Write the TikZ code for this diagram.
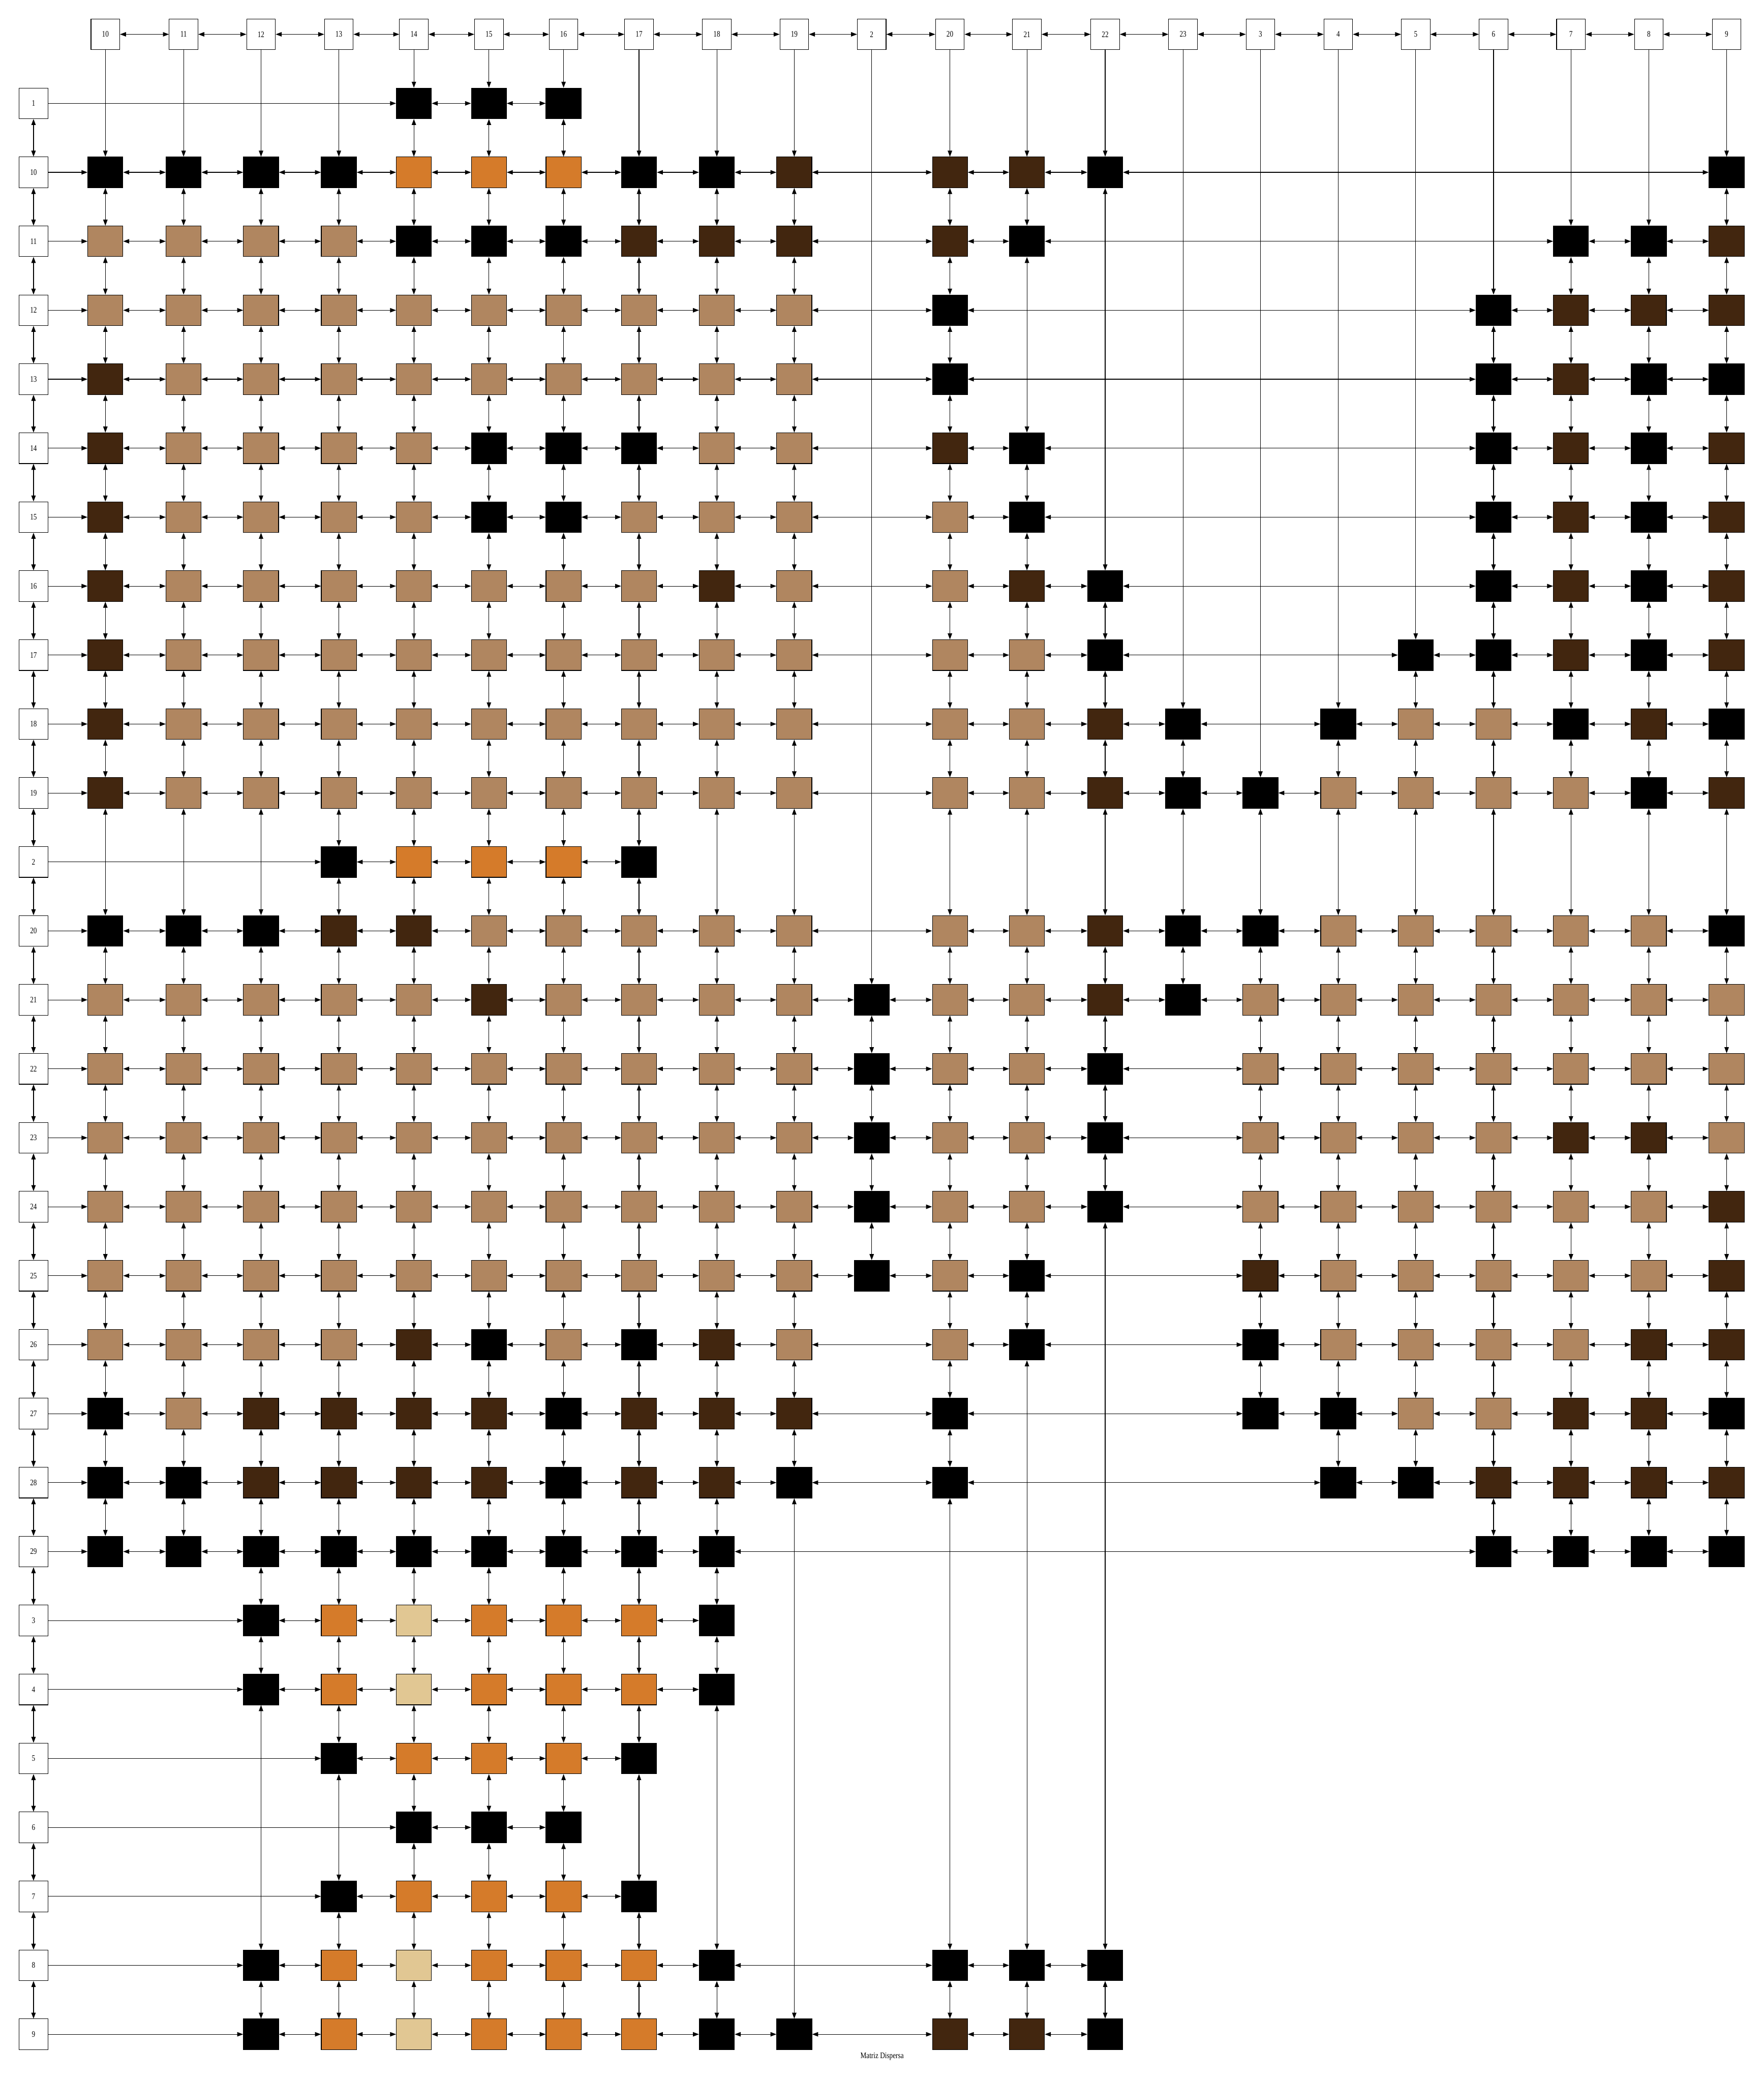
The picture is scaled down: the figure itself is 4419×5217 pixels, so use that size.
\documentclass[tikz,border=0pt]{standalone}
\usepackage{fontspec}
\setmainfont{Liberation Serif}[FakeStretch=0.8]
\usetikzlibrary{arrows.meta}
\definecolor{colK}{HTML}{000000}
\definecolor{colD}{HTML}{42260F}
\definecolor{colT}{HTML}{B08660}
\definecolor{colO}{HTML}{D57B2A}
\definecolor{colL}{HTML}{E1C793}
\tikzset{
  hdr/.style={draw,fill=white,minimum width=0.72cm,minimum height=0.77cm,inner sep=0pt,font=\fontsize{6}{7}\selectfont},
  cell/.style={draw,minimum width=0.88cm,minimum height=0.77cm,inner sep=0pt},
}
\begin{document}
\begin{tikzpicture}[x=0.01cm,y=-0.01cm,line width=0.4pt,>={Triangle[length=0.15cm,width=0.11cm]}]
\useasboundingbox (0,0) rectangle (4419,5217);
% cabeceras de columna
\foreach \cn/\xc [count=\i from 0, remember=\cn as \lastcn (initially none)] in {10/264,11/460,12/654,13/849,14/1037,15/1225,16/1412,17/1601,18/1796,19/1990,2/2184,20/2380,21/2573,22/2769,23/2964,3/3158,4/3353,5/3547,6/3742,7/3936,8/4131,9/4326}{
  \node[hdr] (c\cn) at (\xc,86) {\cn};
  \ifnum\i>0 \draw[<->] (c\lastcn) -- (c\cn); \fi
  \expandafter\xdef\csname lst\cn\endcsname{c\cn}
  \expandafter\xdef\csname top\cn\endcsname{1}
}
% cabeceras de fila
\foreach \rn [count=\j from 0, remember=\rn as \lastrn (initially none)] in {1,10,11,12,13,14,15,16,17,18,19,2,20,21,22,23,24,25,26,27,28,29,3,4,5,6,7,8,9}{
  \node[hdr] (r\rn) at (84,259+172.8*\j) {\rn};
  \ifnum\j>0 \draw[<->] (r\lastrn) -- (r\rn); \fi
}
% nodos de la matriz: columna/color
\foreach \rn/\cells in {
  1/{14/K,15/K,16/K},
  10/{10/K,11/K,12/K,13/K,14/O,15/O,16/O,17/K,18/K,19/D,20/D,21/D,22/K,9/K},
  11/{10/T,11/T,12/T,13/T,14/K,15/K,16/K,17/D,18/D,19/D,20/D,21/K,7/K,8/K,9/D},
  12/{10/T,11/T,12/T,13/T,14/T,15/T,16/T,17/T,18/T,19/T,20/K,6/K,7/D,8/D,9/D},
  13/{10/D,11/T,12/T,13/T,14/T,15/T,16/T,17/T,18/T,19/T,20/K,6/K,7/D,8/K,9/K},
  14/{10/D,11/T,12/T,13/T,14/T,15/K,16/K,17/K,18/T,19/T,20/D,21/K,6/K,7/D,8/K,9/D},
  15/{10/D,11/T,12/T,13/T,14/T,15/K,16/K,17/T,18/T,19/T,20/T,21/K,6/K,7/D,8/K,9/D},
  16/{10/D,11/T,12/T,13/T,14/T,15/T,16/T,17/T,18/D,19/T,20/T,21/D,22/K,6/K,7/D,8/K,9/D},
  17/{10/D,11/T,12/T,13/T,14/T,15/T,16/T,17/T,18/T,19/T,20/T,21/T,22/K,5/K,6/K,7/D,8/K,9/D},
  18/{10/D,11/T,12/T,13/T,14/T,15/T,16/T,17/T,18/T,19/T,20/T,21/T,22/D,23/K,4/K,5/T,6/T,7/K,8/D,9/K},
  19/{10/D,11/T,12/T,13/T,14/T,15/T,16/T,17/T,18/T,19/T,20/T,21/T,22/D,23/K,3/K,4/T,5/T,6/T,7/T,8/K,9/D},
  2/{13/K,14/O,15/O,16/O,17/K},
  20/{10/K,11/K,12/K,13/D,14/D,15/T,16/T,17/T,18/T,19/T,20/T,21/T,22/D,23/K,3/K,4/T,5/T,6/T,7/T,8/T,9/K},
  21/{10/T,11/T,12/T,13/T,14/T,15/D,16/T,17/T,18/T,19/T,2/K,20/T,21/T,22/D,23/K,3/T,4/T,5/T,6/T,7/T,8/T,9/T},
  22/{10/T,11/T,12/T,13/T,14/T,15/T,16/T,17/T,18/T,19/T,2/K,20/T,21/T,22/K,3/T,4/T,5/T,6/T,7/T,8/T,9/T},
  23/{10/T,11/T,12/T,13/T,14/T,15/T,16/T,17/T,18/T,19/T,2/K,20/T,21/T,22/K,3/T,4/T,5/T,6/T,7/D,8/D,9/T},
  24/{10/T,11/T,12/T,13/T,14/T,15/T,16/T,17/T,18/T,19/T,2/K,20/T,21/T,22/K,3/T,4/T,5/T,6/T,7/T,8/T,9/D},
  25/{10/T,11/T,12/T,13/T,14/T,15/T,16/T,17/T,18/T,19/T,2/K,20/T,21/K,3/D,4/T,5/T,6/T,7/T,8/T,9/D},
  26/{10/T,11/T,12/T,13/T,14/D,15/K,16/T,17/K,18/D,19/T,20/T,21/K,3/K,4/T,5/T,6/T,7/T,8/D,9/D},
  27/{10/K,11/T,12/D,13/D,14/D,15/D,16/K,17/D,18/D,19/D,20/K,3/K,4/K,5/T,6/T,7/D,8/D,9/K},
  28/{10/K,11/K,12/D,13/D,14/D,15/D,16/K,17/D,18/D,19/K,20/K,4/K,5/K,6/D,7/D,8/D,9/D},
  29/{10/K,11/K,12/K,13/K,14/K,15/K,16/K,17/K,18/K,6/K,7/K,8/K,9/K},
  3/{12/K,13/O,14/L,15/O,16/O,17/O,18/K},
  4/{12/K,13/O,14/L,15/O,16/O,17/O,18/K},
  5/{13/K,14/O,15/O,16/O,17/K},
  6/{14/K,15/K,16/K},
  7/{13/K,14/O,15/O,16/O,17/K},
  8/{12/K,13/O,14/L,15/O,16/O,17/O,18/K,20/K,21/K,22/K},
  9/{12/K,13/O,14/L,15/O,16/O,17/O,18/K,19/K,20/D,21/D,22/K}}{
  \foreach \cn/\hue [count=\n, remember=\cn as \lastcn (initially none)] in \cells{
    \node[cell,fill=col\hue] (m\rn-\cn) at (c\cn |- r\rn) {};
    % enlace de fila
    \ifnum\n=1 \draw[->] (r\rn) -- (m\rn-\cn); \else \draw[<->] (m\rn-\lastcn) -- (m\rn-\cn); \fi
    % enlace de columna
    \edef\up{\csname lst\cn\endcsname}
    \ifnum\csname top\cn\endcsname=1\relax \draw[->] (\up) -- (m\rn-\cn); \else \draw[<->] (\up) -- (m\rn-\cn); \fi
    \expandafter\xdef\csname lst\cn\endcsname{m\rn-\cn}
    \expandafter\xdef\csname top\cn\endcsname{0}
  }
}
\node[font=\fontsize{6}{7}\selectfont] (ttl) at (2210,5153) {Matriz Dispersa};
\end{tikzpicture}
\end{document}
